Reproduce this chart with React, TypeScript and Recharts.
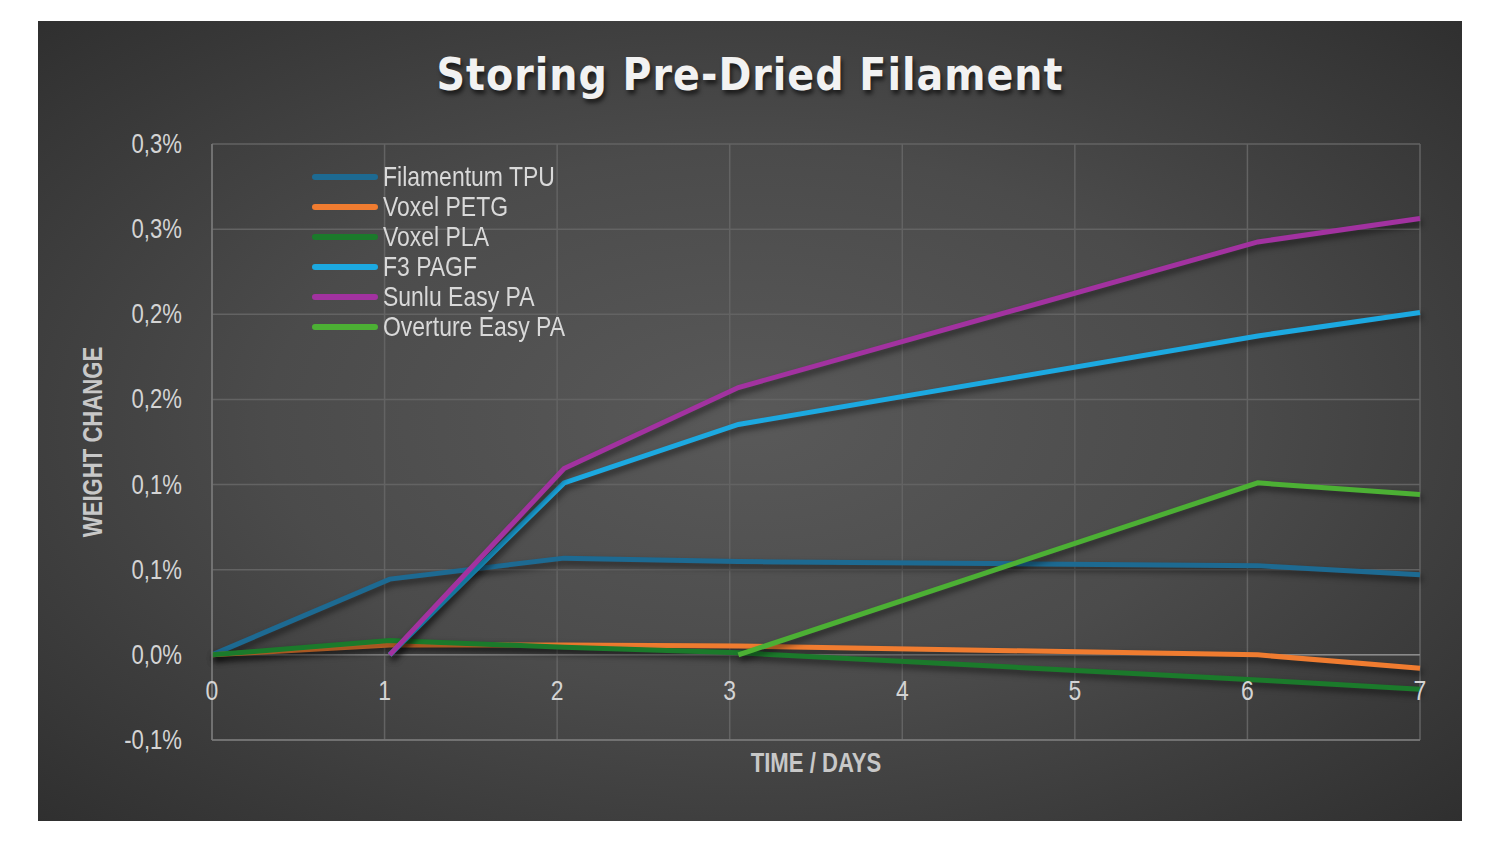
import React from "react";
import { LineChart, Line, XAxis, YAxis, CartesianGrid, ReferenceLine, Legend } from "recharts";

const days = [0, 1.03, 2.04, 3.05, 6.06, 7];
const seriesNames = ["Filamentum TPU", "Voxel PETG", "Voxel PLA", "F3 PAGF", "Sunlu Easy PA", "Overture Easy PA"];
const seriesColors = ["#1d6a92", "#f07c30", "#1b7a2b", "#1ca9e1", "#a232a0", "#4cb034"];
const tpu = [0, 0.0445, 0.0568, 0.0548, 0.0524, 0.047];
const petg = [0, 0.0058, 0.0058, 0.0052, 0.0, -0.0078];
const pla = [0, 0.0084, 0.0045, 0.0012, -0.0147, -0.0202];
const f3 = [null, 0, 0.101, 0.1353, 0.1873, 0.201];
const sunlu = [null, 0, 0.1094, 0.157, 0.2425, 0.2563];
const overture = [null, null, null, 0, 0.101, 0.0941];
const xTicks = [0, 1, 2, 3, 4, 5, 6, 7];
const yTicks = [-0.05, 0, 0.05, 0.1, 0.15, 0.2, 0.25, 0.3];
const yTickLabels = ["-0,1%", "0,0%", "0,1%", "0,1%", "0,2%", "0,2%", "0,3%", "0,3%"];

const allSeries = [tpu, petg, pla, f3, sunlu, overture];
const keys = ["s0", "s1", "s2", "s3", "s4", "s5"];
const data = days.map((d, i) => {
  const row: any = { day: d };
  allSeries.forEach((s, k) => {
    row[keys[k]] = s[i];
  });
  return row;
});

const SANS = '"Liberation Sans", Arial, sans-serif';
const W = 1424;
const H = 800;
const PLOT_LEFT = 174;

const NarrowText = ({ x, y, anchor = "start", size, weight = "normal", fill, rotate = 0, children }: any) => (
  <text
    transform={`translate(${x},${y}) rotate(${rotate}) scale(0.82,1)`}
    x={0}
    y={0}
    textAnchor={anchor}
    fontFamily={SANS}
    fontSize={size}
    fontWeight={weight}
    fill={fill}
  >
    {children}
  </text>
);

const YTick = (props: any) => {
  const { y, payload } = props;
  const idx = yTicks.indexOf(payload.value);
  return (
    <NarrowText x={PLOT_LEFT - 30} y={y + 9} anchor="end" size={27} fill="#d4d4d4">
      {yTickLabels[idx]}
    </NarrowText>
  );
};

const XTick = (props: any) => {
  const { x, payload } = props;
  return (
    <NarrowText x={x} y={679} anchor="middle" size={28} fill="#d4d4d4">
      {String(payload.value)}
    </NarrowText>
  );
};

const XTitle = (props: any) => {
  const vb = props.viewBox || { x: 174, y: 719, width: 1208 };
  return (
    <NarrowText x={vb.x + vb.width / 2} y={vb.y + 32} anchor="middle" size={27} weight="bold" fill="#c8c8c8">
      TIME / DAYS
    </NarrowText>
  );
};

const YTitle = (props: any) => {
  const vb = props.viewBox || { x: 74, y: 123, width: 100, height: 596 };
  const cx = vb.x + vb.width - 119 + 9;
  const cy = vb.y + vb.height / 2;
  return (
    <NarrowText x={cx} y={cy} anchor="middle" size={27} weight="bold" fill="#c8c8c8" rotate={-90}>
      WEIGHT CHANGE
    </NarrowText>
  );
};

const LegendContent = () => (
  <div>
    {seriesNames.map((n, i) => (
      <div key={n} style={{ display: "flex", alignItems: "center", height: 30, whiteSpace: "nowrap" }}>
        <div style={{ width: 66, height: 6, borderRadius: 3, background: seriesColors[i], marginRight: 5, flex: "none" }} />
        <span
          style={{
            fontFamily: SANS,
            fontSize: 28,
            color: "#d9d9d9",
            lineHeight: "30px",
            display: "inline-block",
            transform: "scaleX(0.82)",
            transformOrigin: "left center",
          }}
        >
          {n}
        </span>
      </div>
    ))}
  </div>
);

export default function App() {
  return (
    <div
      style={{
        marginLeft: 30,
        marginTop: 13,
        width: W,
        height: H,
        position: "relative",
        background: "radial-gradient(ellipse 75% 75% at 50% 50%, #595959 0%, #4b4b4b 45%, #2c2c2c 100%)",
      }}
    >
      <style>{`.recharts-line-curve { filter: drop-shadow(2px 4px 3px rgba(0,0,0,0.55)); }`}</style>
      <div
        style={{
          position: "absolute",
          top: 28,
          left: 0,
          width: W,
          textAlign: "center",
          fontFamily: '"DejaVu Sans Condensed", "DejaVu Sans", sans-serif',
          fontWeight: "bold",
          fontSize: 44,
          letterSpacing: 1,
          color: "#f2f2f2",
          textShadow: "2px 4px 4px rgba(0,0,0,0.6)",
        }}
      >
        Storing Pre-Dried Filament
      </div>
      <LineChart width={W} height={H} data={data} margin={{ top: 123, right: 42, left: 74, bottom: 51 }}>
        <CartesianGrid stroke="#636363" strokeWidth={1.5} horizontalValues={yTicks} verticalValues={xTicks} />
        <XAxis
          dataKey="day"
          type="number"
          domain={[0, 7]}
          ticks={xTicks}
          tick={<XTick />}
          tickLine={false}
          axisLine={{ stroke: "#7a7a7a", strokeWidth: 1.5 }}
          height={30}
          label={<XTitle />}
        />
        <YAxis
          type="number"
          domain={[-0.05, 0.3]}
          ticks={yTicks}
          tick={<YTick />}
          tickLine={false}
          axisLine={{ stroke: "#7a7a7a", strokeWidth: 1.5 }}
          width={100}
          label={<YTitle />}
        />
        <ReferenceLine y={0} stroke="#8a8a8a" strokeWidth={1.5} />
        <Legend
          verticalAlign="middle"
          align="center"
          layout="vertical"
          content={<LegendContent />}
          wrapperStyle={{ position: "absolute", top: 141, left: 274, width: 320, height: 180 }}
        />
        {keys.map((k, i) => (
          <Line
            key={k}
            dataKey={k}
            name={seriesNames[i]}
            stroke={seriesColors[i]}
            strokeWidth={5}
            dot={false}
            activeDot={false}
            isAnimationActive={false}
            connectNulls={false}
          />
        ))}
      </LineChart>
    </div>
  );
}
